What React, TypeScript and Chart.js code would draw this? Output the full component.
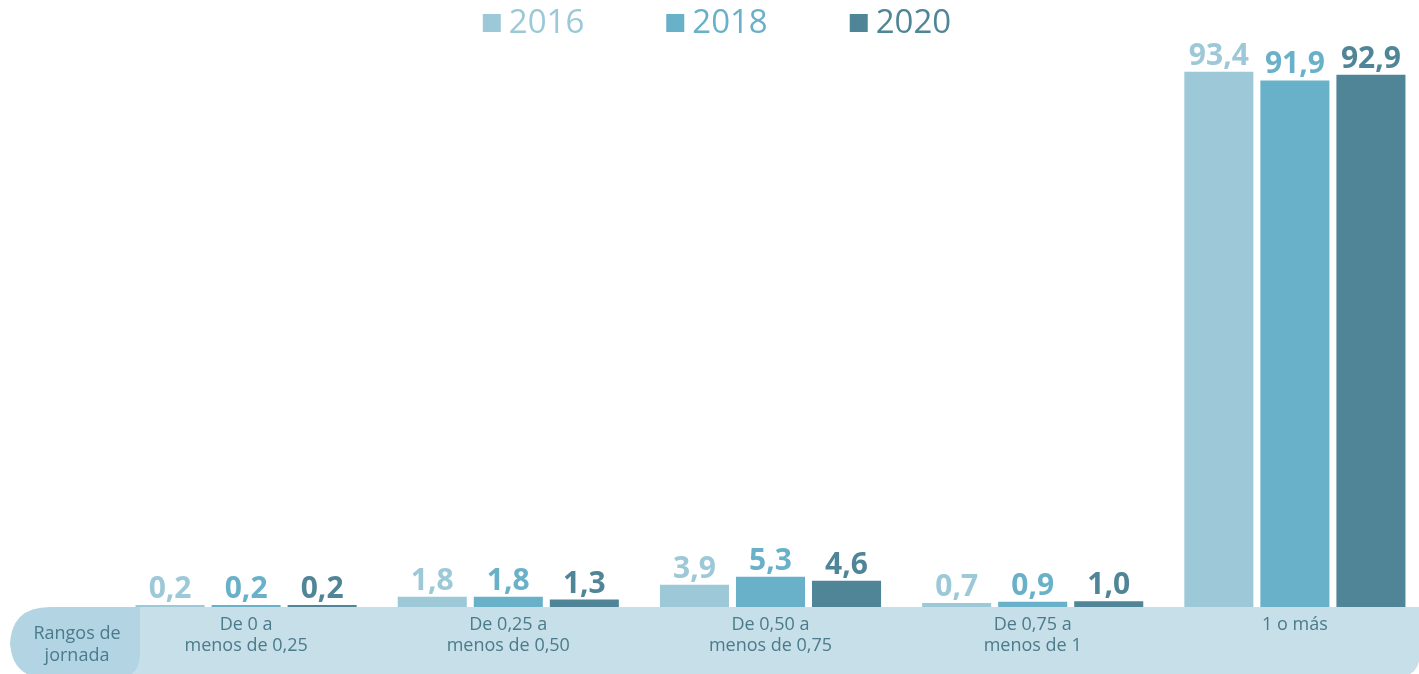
import React, { useEffect, useRef } from "react";
import { Chart, registerables } from "chart.js";

Chart.register(...registerables);

const categories: string[][] = [
  ["De 0 a", "menos de 0,25"],
  ["De 0,25 a", "menos de 0,50"],
  ["De 0,50 a", "menos de 0,75"],
  ["De 0,75 a", "menos de 1"],
  ["1 o más"],
];
const seriesNames = ["2016", "2018", "2020"];
const values2016 = [0.2, 1.8, 3.9, 0.7, 93.4];
const values2018 = [0.2, 1.8, 5.3, 0.9, 91.9];
const values2020 = [0.2, 1.3, 4.6, 1.0, 92.9];
const colors = ["#9cc8d8", "#69b0c9", "#4f8596"];
const axisTitle = ["Rangos de", "jornada"];

const FONT = "'Open Sans', 'Noto Sans', sans-serif";

function roundRect(ctx: CanvasRenderingContext2D, x: number, y: number, w: number, h: number, r: { tl: number; tr: number; br: number; bl: number }) {
  ctx.beginPath();
  ctx.moveTo(x + r.tl, y);
  ctx.lineTo(x + w - r.tr, y);
  ctx.quadraticCurveTo(x + w, y, x + w, y + r.tr);
  ctx.lineTo(x + w, y + h - r.br);
  ctx.quadraticCurveTo(x + w, y + h, x + w - r.br, y + h);
  ctx.lineTo(x + r.bl, y + h);
  ctx.quadraticCurveTo(x, y + h, x, y + h - r.bl);
  ctx.lineTo(x, y + r.tl);
  ctx.quadraticCurveTo(x, y, x + r.tl, y);
  ctx.closePath();
}

const decorPlugin = {
  id: "decor",
  beforeDatasetsDraw(chart: any) {
    const ctx: CanvasRenderingContext2D = chart.ctx;
    const area = chart.chartArea;
    const top = area.bottom;
    ctx.save();
    // main band
    ctx.fillStyle = "#c6dfe8";
    roundRect(ctx, 60, top, 1420 - 60, 70, { tl: 0, tr: 0, br: 24, bl: 0 });
    ctx.fill();
    // pill
    ctx.fillStyle = "#b2d4e3";
    roundRect(ctx, 10, top, 130, 72, { tl: 40, tr: 0, br: 26, bl: 40 });
    ctx.fill();
    // axis title
    ctx.fillStyle = "#4b7b8b";
    ctx.font = `18px ${FONT}`;
    ctx.textAlign = "center";
    ctx.textBaseline = "middle";
    ctx.fillText(axisTitle[0], 77, top + 27);
    ctx.fillText(axisTitle[1], 77, top + 49);
    // category labels
    const xs = chart.scales.x;
    categories.forEach((lines, i) => {
      const cx = xs.getPixelForValue(i);
      lines.forEach((t, j) => ctx.fillText(t, cx, top + 18 + j * 21));
    });
    ctx.restore();
  },
  afterDatasetsDraw(chart: any) {
    const ctx: CanvasRenderingContext2D = chart.ctx;
    ctx.save();
    ctx.font = `700 30px ${FONT}`;
    ctx.textAlign = "center";
    ctx.textBaseline = "alphabetic";
    chart.data.datasets.forEach((ds: any, di: number) => {
      const meta = chart.getDatasetMeta(di);
      ctx.fillStyle = colors[di];
      meta.data.forEach((el: any, i: number) => {
        const v = ds.data[i] as number;
        ctx.fillText(v.toFixed(1).replace(".", ","), el.x, el.y - 7);
      });
    });
    // legend
    ctx.font = `33px ${FONT}`;
    ctx.textAlign = "left";
    ctx.textBaseline = "middle";
    const box = 18, gap = 8, spacing = 82;
    const widths = seriesNames.map((n) => box + gap + ctx.measureText(n).width);
    const total = widths.reduce((a, b) => a + b, 0) + spacing * (seriesNames.length - 1);
    let x = 717 - total / 2;
    const cy = 23;
    seriesNames.forEach((n, i) => {
      ctx.fillStyle = colors[i];
      ctx.fillRect(x, cy - box / 2, box, box);
      ctx.fillText(n, x + box + gap, cy + 1);
      x += widths[i] + spacing;
    });
    ctx.restore();
  },
};

export default function App() {
  const ref = useRef<HTMLCanvasElement>(null);
  useEffect(() => {
    if (!ref.current) return;
    const allValues = [values2016, values2018, values2020];
    const chart = new Chart(ref.current, {
      type: "bar",
      data: {
        labels: categories.map((c) => c.join(" ")),
        datasets: seriesNames.map((n, i) => ({
          label: n,
          data: allValues[i],
          backgroundColor: colors[i],
          borderWidth: 0,
          categoryPercentage: 0.87,
          barPercentage: 0.908,
          minBarLength: 2,
        })),
      },
      options: {
        animation: false,
        responsive: false,
        devicePixelRatio: 1,
        layout: { padding: { top: 34, bottom: 67, left: 115, right: 14 } },
        plugins: { legend: { display: false }, tooltip: { enabled: false } },
        scales: {
          x: { display: false },
          y: { display: false, min: 0, max: 100 },
        },
      },
      plugins: [decorPlugin],
    });
    return () => chart.destroy();
  }, []);
  return (
    <div style={{ position: "fixed", left: 0, top: 0, width: 1419, height: 674, overflow: "hidden", background: "#fff" }}>
      <canvas ref={ref} width={1440} height={674} style={{ display: "block", width: 1440, height: 674 }} />
    </div>
  );
}
